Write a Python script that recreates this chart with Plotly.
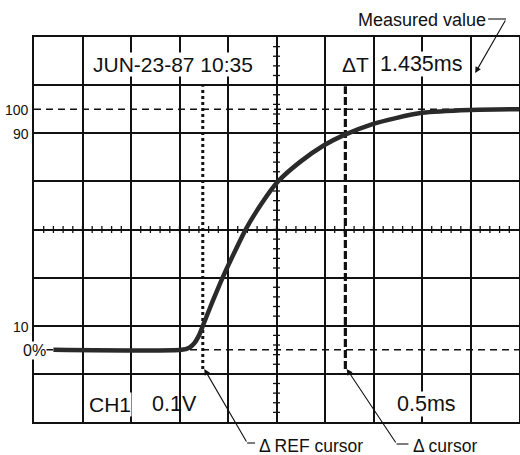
import numpy as np
import plotly.graph_objects as go

# ---- data (time in ms, level in %) ----
time_ms = [0.20, 1.52, 1.60, 1.65, 1.70, 1.745, 1.79, 1.84, 1.94, 2.02, 2.19,
           2.35, 2.51, 2.74, 2.99, 3.20, 3.49, 3.73, 4.00, 4.49, 5.00]
level_pct = [0, 0, 0.9, 2.6, 5.9, 10.4, 15.0, 20.0, 29.6, 36.6, 50.6,
             61, 69.7, 78, 85, 89.3, 93.8, 96.3, 98.5, 99.7, 100]
ref_cursor_ms = 1.74
delta_cursor_ms = 3.21
cursor_span_pct = [-8, 109.5]
ref_levels_pct = [0, 100]
level_labels = ["0%", "10", "90", "100"]
level_label_vals = [0, 10, 90, 100]

X_RANGE = [0, 5]
Y_RANGE = [-30, 130]

W, H = 521, 455
L, R, T, B = 34, 0, 37, 33
PW, PH = W - L - R, H - T - B

def pp(px, py):
    return (px - L) / PW, (H - B - py) / PH

FONT = "Liberation Sans, Arial, Helvetica, sans-serif"
INK = "#111111"

fig = go.Figure()

# dashed 0% / 100% reference lines
for lv in ref_levels_pct:
    fig.add_trace(go.Scatter(x=X_RANGE, y=[lv, lv], mode="lines",
                             line=dict(color=INK, width=1.5, dash="7px,5px"),
                             hoverinfo="skip", showlegend=False))

# centre-axis minor ticks
tx = np.arange(0.1, 5.0, 0.1)
fig.add_trace(go.Scatter(x=tx, y=[50] * len(tx), mode="markers",
                         marker=dict(symbol="line-ns", size=5,
                                     line=dict(color=INK, width=1.3)),
                         hoverinfo="skip", showlegend=False))
ty = np.arange(-26, 130, 4)
fig.add_trace(go.Scatter(x=[2.5] * len(ty), y=ty, mode="markers",
                         marker=dict(symbol="line-ew", size=5,
                                     line=dict(color=INK, width=1.3)),
                         hoverinfo="skip", showlegend=False))

# cursors
fig.add_trace(go.Scatter(x=[ref_cursor_ms] * 2, y=cursor_span_pct, mode="lines",
                         line=dict(color=INK, width=3, dash="3px,3px"),
                         hoverinfo="skip", showlegend=False))
fig.add_trace(go.Scatter(x=[delta_cursor_ms] * 2, y=cursor_span_pct, mode="lines",
                         line=dict(color=INK, width=3.2, dash="8px,3px"),
                         hoverinfo="skip", showlegend=False))

# waveform
fig.add_trace(go.Scatter(x=time_ms, y=level_pct, mode="lines",
                         line=dict(color="#2a2a2a", width=4.5, shape="spline", smoothing=0.6),
                         hoverinfo="skip", showlegend=False))

ann = []

def text(px, py, s, size, xanchor="left", bg=None):
    x, y = pp(px, py)
    d = dict(x=x, y=y, xref="paper", yref="paper", text=s, showarrow=False,
             xanchor=xanchor, yanchor="middle",
             font=dict(family=FONT, size=size, color=INK))
    if bg:
        d.update(bgcolor=bg, borderpad=0)
    ann.append(d)

def arrow(tipx, tipy, tailx, taily):
    x, y = pp(tipx, tipy)
    ann.append(dict(x=x, y=y, xref="paper", yref="paper", text="",
                    showarrow=True, ax=tailx - tipx, ay=taily - tipy,
                    arrowhead=2, arrowsize=1.1, arrowwidth=1.1, arrowcolor=INK))

text(92, 64, "JUN-23-87 10:35", 21, bg="white")
text(342, 64, "ΔT", 21, bg="white")
text(380, 64, "1.435ms", 21.5, bg="white")
text(88, 404, "CH1", 21, bg="white")
text(150, 404, "0.1V", 21.5)
text(397, 404, "0.5ms", 21.5, bg="white")

# level labels at left
for s, v in zip(level_labels, level_label_vals):
    py = (H - B) - (v - Y_RANGE[0]) / (Y_RANGE[1] - Y_RANGE[0]) * PH
    if s == "0%":
        text(22, py + 1, s, 16, bg="white")
    else:
        text(31, py + 1, s, 14, xanchor="right")

text(357, 20, "Measured value", 18)
text(258, 446, "Δ REF cursor", 17.5)
text(413, 446, "Δ cursor", 17.5)

arrow(477, 73, 508, 19)
arrow(205, 369, 248, 443)
arrow(348, 369, 398, 444)

shapes = []
for (x0, y0, x1, y1) in [(490, 19, 508, 19), (248, 443, 256, 443), (398, 444, 410, 444)]:
    a0, b0 = pp(x0, y0)
    a1, b1 = pp(x1, y1)
    shapes.append(dict(type="line", xref="paper", yref="paper", x0=a0, y0=b0, x1=a1, y1=b1,
                       line=dict(color=INK, width=1.1)))

fig.update_layout(
    width=W, height=H,
    margin=dict(l=L, r=R, t=T, b=B, pad=0),
    paper_bgcolor="white", plot_bgcolor="white",
    annotations=ann, shapes=shapes,
    xaxis=dict(range=X_RANGE, tick0=0, dtick=0.5, showgrid=True, gridcolor=INK, gridwidth=1.6,
               showline=True, mirror=True, linecolor=INK, linewidth=1.6,
               showticklabels=False, ticks="", zeroline=False, fixedrange=True),
    yaxis=dict(range=Y_RANGE, tick0=10, dtick=20, showgrid=True, gridcolor=INK, gridwidth=1.6,
               showline=True, mirror=True, linecolor=INK, linewidth=1.6,
               showticklabels=False, ticks="", zeroline=False, fixedrange=True),
)

fig.write_html("out.html", config={"displayModeBar": False},
               post_script="document.body.style.margin='0px';document.body.style.overflow='hidden';")
